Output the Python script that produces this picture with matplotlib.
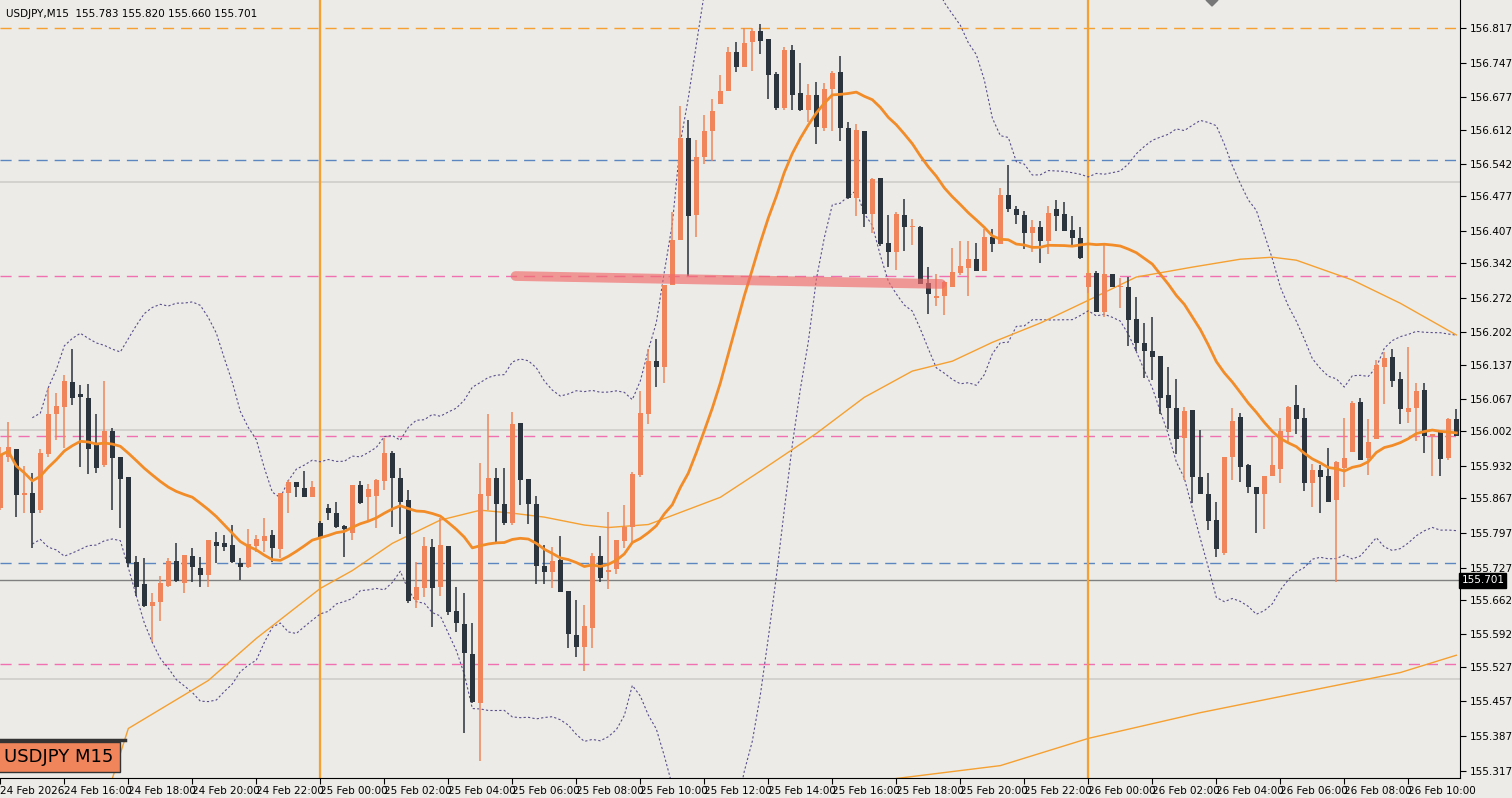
import matplotlib
matplotlib.use("Agg")
import matplotlib.pyplot as plt
import numpy as np
import pandas as pd

# OHLC candles (15 min), first candle = 24 Feb 2026 14:00
opens = [155.847,155.950,155.966,155.873,155.877,155.843,155.956,156.037,156.051,156.102,
 156.077,156.069,155.974,155.934,156.003,155.950,155.910,155.738,155.693,155.649,
 155.657,155.689,155.740,155.695,155.750,155.726,155.713,155.778,155.776,155.772,
 155.736,155.728,155.770,155.780,155.792,155.764,155.877,155.899,155.887,155.869,
 155.818,155.847,155.837,155.812,155.796,155.893,155.869,155.871,155.901,155.958,
 155.908,155.863,155.661,155.685,155.768,155.687,155.770,155.639,155.614,155.552,
 155.453,155.871,155.908,155.855,155.818,156.019,155.905,155.855,155.730,155.719,
 155.742,155.679,155.590,155.566,155.604,155.750,155.719,155.724,155.780,155.810,
 155.914,156.037,156.144,156.132,156.298,156.389,156.595,156.439,156.557,156.609,
 156.664,156.690,156.769,156.739,156.789,156.811,156.795,156.724,156.656,156.773,
 156.686,156.652,156.682,156.615,156.694,156.728,156.615,156.474,156.609,156.441,
 156.514,156.383,156.364,156.439,156.415,156.415,156.302,156.271,156.275,156.294,
 156.322,156.332,156.350,156.326,156.395,156.381,156.480,156.451,156.439,156.403,
 156.415,156.387,156.451,156.441,156.409,156.393,156.294,156.322,156.243,156.320,
 156.294,156.294,156.229,156.180,156.164,156.154,156.075,156.049,155.988,156.045,
 155.910,155.875,155.823,155.756,155.950,156.031,155.934,155.889,155.875,155.912,
 155.926,156.001,156.055,156.029,155.897,155.924,155.912,155.863,155.928,155.960,
 156.061,155.948,155.986,156.132,156.152,156.108,156.041,156.049,156.085,155.992,
 156.003,155.948,156.027]
highs = [155.970,156.021,155.966,155.932,155.918,155.966,156.089,156.079,156.116,156.168,
 156.096,156.098,156.037,156.104,156.009,155.950,155.910,155.750,155.746,155.675,
 155.711,155.746,155.776,155.752,155.766,155.748,155.782,155.798,155.792,155.814,
 155.746,155.806,155.792,155.827,155.802,155.877,155.903,155.899,155.922,155.901,
 155.822,155.855,155.859,155.814,155.893,155.901,155.895,155.907,155.988,155.962,
 155.928,155.883,155.738,155.788,155.784,155.827,155.770,155.687,155.675,155.616,
 155.938,156.037,155.928,155.928,156.041,156.019,155.905,155.871,155.772,155.768,
 155.790,155.679,155.661,155.651,155.756,155.790,155.839,155.782,155.853,155.920,
 156.083,156.168,156.189,156.298,156.445,156.660,156.631,156.591,156.641,156.674,
 156.722,156.779,156.789,156.817,156.817,156.825,156.795,156.728,156.779,156.783,
 156.747,156.704,156.708,156.706,156.730,156.761,156.627,156.623,156.609,156.514,
 156.514,156.439,156.445,156.472,156.431,156.417,156.334,156.320,156.306,156.373,
 156.387,156.387,156.383,156.411,156.411,156.494,156.540,156.457,156.447,156.429,
 156.427,156.457,156.470,156.466,156.437,156.415,156.322,156.326,156.379,156.320,
 156.312,156.314,156.273,156.221,156.233,156.154,156.132,156.108,156.051,156.045,
 156.005,155.918,155.859,155.950,156.049,156.039,155.936,155.889,155.912,155.992,
 156.029,156.053,156.096,156.049,155.936,155.934,155.968,155.942,156.029,156.063,
 156.069,156.027,156.146,156.162,156.168,156.122,156.172,156.100,156.100,155.996,
 156.003,156.029,156.047]
lows = [155.843,155.940,155.829,155.837,155.766,155.837,155.950,155.984,155.968,156.055,
 155.930,155.916,155.918,155.930,155.843,155.808,155.728,155.669,155.647,155.576,
 155.620,155.687,155.697,155.675,155.697,155.687,155.687,155.736,155.760,155.736,
 155.701,155.726,155.758,155.758,155.738,155.746,155.837,155.869,155.869,155.869,
 155.784,155.823,155.808,155.748,155.782,155.855,155.823,155.808,155.883,155.810,
 155.794,155.655,155.645,155.667,155.608,155.669,155.631,155.596,155.392,155.453,
 155.337,155.843,155.778,155.814,155.814,155.853,155.816,155.693,155.693,155.685,
 155.677,155.564,155.546,155.519,155.564,155.697,155.683,155.715,155.766,155.776,
 155.910,156.017,156.091,156.100,156.298,156.389,156.316,156.395,156.542,156.548,
 156.664,156.690,156.728,156.739,156.730,156.765,156.674,156.652,156.652,156.652,
 156.650,156.627,156.583,156.609,156.609,156.589,156.472,156.437,156.415,156.403,
 156.377,156.334,156.328,156.366,156.379,156.300,156.239,156.255,156.237,156.294,
 156.318,156.275,156.326,156.326,156.364,156.381,156.445,156.421,156.371,156.364,
 156.342,156.360,156.407,156.407,156.375,156.350,156.282,156.243,156.233,156.294,
 156.251,156.174,156.164,156.110,156.106,156.037,156.007,155.956,155.903,155.857,
 155.875,155.802,155.748,155.752,155.903,155.899,155.877,155.796,155.806,155.912,
 155.897,155.980,155.996,155.881,155.849,155.837,155.859,155.697,155.889,155.960,
 155.944,155.914,155.986,156.057,156.091,156.017,156.019,155.982,155.958,155.912,
 155.912,155.944,155.992]
closes = [155.954,155.970,155.873,155.877,155.837,155.958,156.037,156.053,156.104,156.069,
 156.071,155.966,155.928,156.003,155.948,155.905,155.736,155.687,155.649,155.657,
 155.695,155.740,155.699,155.752,155.728,155.713,155.782,155.770,155.768,155.738,
 155.728,155.774,155.784,155.790,155.766,155.877,155.899,155.889,155.869,155.889,
 155.788,155.837,155.810,155.804,155.893,155.857,155.885,155.903,155.958,155.908,
 155.859,155.659,155.687,155.770,155.685,155.772,155.637,155.616,155.554,155.455,
 155.875,155.908,155.855,155.818,156.017,155.903,155.855,155.730,155.719,155.740,
 155.677,155.592,155.566,155.610,155.750,155.707,155.723,155.782,155.810,155.916,
 156.039,156.144,156.132,156.298,156.389,156.595,156.437,156.557,156.609,156.650,
 156.690,156.769,156.739,156.787,156.811,156.791,156.722,156.656,156.773,156.682,
 156.652,156.682,156.617,156.694,156.726,156.615,156.474,156.611,156.441,156.512,
 156.381,156.364,156.441,156.415,156.417,156.300,156.280,156.275,156.304,156.324,
 156.336,156.350,156.326,156.395,156.381,156.480,156.451,156.439,156.403,156.415,
 156.387,156.443,156.437,156.407,156.393,156.352,156.322,156.243,156.320,156.294,
 156.294,156.227,156.180,156.164,156.152,156.069,156.049,155.986,156.043,155.910,
 155.875,155.821,155.764,155.950,156.023,155.930,155.889,155.875,155.912,155.934,
 156.003,156.051,156.027,155.897,155.924,155.910,155.859,155.940,155.948,156.059,
 155.944,155.980,156.136,156.150,156.104,156.047,156.049,156.083,155.992,155.996,
 155.946,156.027,155.992]

# slow moving average (candle index, price)
ma_slow_idx = [14,16,26,32,40,44,49,55,60,64,68,73,76,81,90,95,102,108,114,119,124,130,136,142,149,155,159,162,169,175,182]
ma_slow_val = [155.301,155.402,155.499,155.584,155.685,155.721,155.776,155.823,155.843,155.837,155.829,155.813,155.808,155.814,155.869,155.922,155.998,156.071,156.124,156.144,156.182,156.221,156.267,156.314,156.334,156.350,156.354,156.348,156.308,156.261,156.197]
ma_long_idx = [112,125,136,150,162,175,182]
ma_long_val = [155.301,155.327,155.382,155.434,155.473,155.515,155.550]

level_orange = [156.817]
level_blue = [156.551, 155.736]
level_pink = [156.316, 155.992, 155.533]
level_gray = [156.506, 156.005, 155.501]
last_price = 155.701
ytick_vals = [156.817,156.747,156.677,156.612,156.542,156.477,156.407,156.342,156.272,156.202,156.137,156.067,156.002,155.932,155.867,155.797,155.727,155.662,155.592,155.527,155.457,155.387,155.317]
vlines_idx = [40, 136]
start_time = "2026-02-24 14:00"

BG = "#ECEBE7"
BULL = "#F0845A"
BEAR = "#2B333D"

n = len(closes)
o = np.array(opens); h = np.array(highs); l = np.array(lows); c = np.array(closes)
idx = np.arange(n)

fig = plt.figure(figsize=(15.12, 7.98), dpi=100, facecolor=BG)
ax = fig.add_axes([0, 20/798, 1460/1512, 778/798], facecolor=BG)
ax.set_xlim(-0.04, 182.46)
ax.set_ylim(155.302, 156.8736)

for y in level_gray:
    ax.axhline(y, color="#CFCECB", lw=1.2, zorder=1)
ax.axhline(last_price, color="#808080", lw=1.0, zorder=1)
for y in level_orange:
    ax.axhline(y, color="#F5A030", lw=1, ls=(0, (8, 5)), zorder=1)
for y in level_blue:
    ax.axhline(y, color="#5B86C0", lw=1, ls=(0, (8, 5)), zorder=1)
for y in level_pink:
    ax.axhline(y, color="#F070B0", lw=1, ls=(0, (8, 5)), zorder=1)
for x in vlines_idx:
    ax.axvline(x, color="#F5A030", lw=1.6, zorder=1)

s = pd.Series(c)
mid = s.rolling(20, min_periods=1).mean()
sd = s.rolling(20, min_periods=5).std(ddof=0)
ax.plot(idx, mid + 2.5 * sd, color="#5A4E8C", lw=0.8, ls=(0, (2, 2)), zorder=2)
ax.plot(idx, mid - 2.5 * sd, color="#5A4E8C", lw=0.8, ls=(0, (2, 2)), zorder=2)
ax.plot(ma_slow_idx, ma_slow_val, color="#F5A030", lw=1.0, zorder=2)
ax.plot(ma_long_idx, ma_long_val, color="#F5A030", lw=1.0, zorder=2)
ax.plot(idx, mid, color="#F28C28", lw=2, zorder=4)

bull = c >= o
cols = np.where(bull, BULL, BEAR)
ax.vlines(idx, l, h, colors=cols, lw=1.1, zorder=3)
body_b = np.minimum(o, c)
body_h = np.maximum(np.abs(c - o), 0.002)
ax.bar(idx, body_h, bottom=body_b, width=0.62, color=cols, zorder=3, linewidth=0)

# highlighter stroke
ax.plot([64.4, 117.6], [156.316, 156.300], color="#F06A6A", lw=7, alpha=0.65,
        solid_capstyle="round", zorder=5)

# axes styling
for sp in ["top", "left"]:
    ax.spines[sp].set_visible(False)
ax.spines["right"].set_color("#000000")
ax.spines["bottom"].set_color("#000000")
ax.yaxis.tick_right()
ax.set_yticks(ytick_vals)
ax.set_yticklabels([f"{v:.3f}" for v in ytick_vals], fontsize=7.5)
ax.tick_params(axis="y", length=4, pad=3, colors="#000000")

times = pd.date_range(start_time, periods=n, freq="15min")
xt = list(range(0, n, 8))
labels = []
for k in xt:
    t = times[k]
    labels.append("24 Feb 2026" if k == 0 else f"{t.day} {t.strftime('%b')} {t.strftime('%H:%M')}")
ax.set_xticks(xt)
ax.set_xticklabels(labels, fontsize=7.5, ha="left")
ax.tick_params(axis="x", length=4, pad=2)

ax.text(1461 / 1460 * 182.5, last_price, f"{last_price:.3f}", transform=ax.transData,
        fontsize=7.5, color="white", va="center", ha="left",
        bbox=dict(boxstyle="square,pad=0.2", fc="black", ec="black"), clip_on=False)

fig.text(6 / 1512, 1 - 14 / 798, "USDJPY,M15  155.783 155.820 155.660 155.701", fontsize=7.5, color="black", va="center")
fig.text(4 / 1512, 1 - 757 / 798, "USDJPY M15", fontsize=13, color="black", va="center", ha="left",
         bbox=dict(boxstyle="square,pad=0.35", fc=BULL, ec="#333333", lw=1))
fig.add_artist(plt.Line2D([0, 125 / 1512], [1 - 740 / 798, 1 - 740 / 798], color="#333333", lw=2.5))
fig.add_artist(plt.Polygon([[1206 / 1512, 1 - 0 / 798], [1218 / 1512, 1 - 0 / 798], [1212 / 1512, 1 - 6 / 798]],
                           closed=True, color="#777777"))

fig.savefig("out.png", dpi=100, facecolor=BG)
